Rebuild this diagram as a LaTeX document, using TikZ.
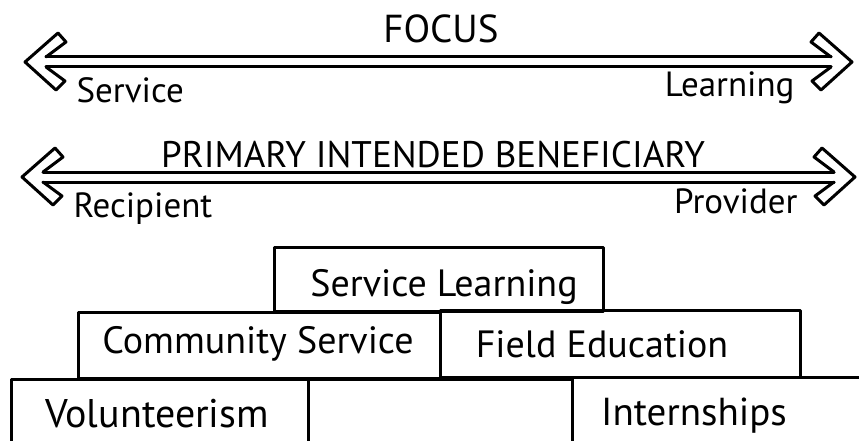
\documentclass[tikz,border=0pt]{standalone}
\usepackage{fontspec}
\setmainfont{PT Sans}
\begin{document}
\begin{tikzpicture}[x=1pt,y=-1pt,line width=3pt,line join=round,line cap=round,
  box/.style={draw,line width=3pt,inner sep=0pt,anchor=north west},
  ttl/.style={inner sep=0pt,anchor=base,font=\fontsize{37}{44}\selectfont},
  lbl/.style={inner sep=0pt,font=\fontsize{35}{42}\selectfont},
  boxtxt/.style={inner sep=0pt,anchor=base,font=\fontsize{38}{46}\selectfont},
  headL/.pic={\draw (21,-5) -- (41,-20) -- (33,-29) -- (0,0) -- (31,28) -- (40,19) -- (21,5);}]
\useasboundingbox (0,0) rectangle (859,441);
\clip (0,0) rectangle (859,441);
% FOCUS arrow
\coordinate (fl) at (25,62);
\coordinate (fr) at (852,62);
\pic at (fl) {headL};
\pic[xscale=-1] at (fr) {headL};
\draw ([shift={(21,-5)}]fl) -- ([shift={(-21,-5)}]fr);
\draw ([shift={(21,5)}]fl) -- ([shift={(-21,5)}]fr);
\node[ttl,font=\fontsize{39}{46}\selectfont] (focus) at (441,43) {FOCUS};
\node[lbl,anchor=base west] (service) at (75,103) {Service};
\node[lbl,anchor=base east] (learning) at (796,97) {Learning};
% BENEFICIARY arrow
\coordinate (bl) at (22,177);
\coordinate (br) at (855,177);
\pic at (bl) {headL};
\pic[xscale=-1] at (br) {headL};
\draw ([shift={(21,-5)}]bl) -- ([shift={(-21,-5)}]br);
\draw ([shift={(21,5)}]bl) -- ([shift={(-21,5)}]br);
\node[ttl] (pib) at (433,167) {PRIMARY INTENDED BENEFICIARY};
\node[lbl,anchor=base west] (recipient) at (72,217) {Recipient};
\node[lbl,anchor=base east] (provider) at (799,213) {Provider};
% boxes
\node[box,minimum width=329,minimum height=64] (slbox) at (273,246) {};
\node[box,minimum width=362,minimum height=66] (csbox) at (77,311) {};
\node[box,minimum width=360,minimum height=67] (febox) at (439,309) {};
\node[box,minimum width=297,minimum height=70] (volbox) at (10,378) {};
\node[box,minimum width=264,minimum height=70] (midbox) at (307,378) {};
\node[box,minimum width=310,minimum height=70] (intbox) at (571,376) {};
\node[boxtxt] (sl) at (444,296) {Service Learning};
\node[boxtxt] (cs) at (258,353) {Community Service};
\node[boxtxt] (fe) at (602,357) {Field Education};
\node[boxtxt,font=\fontsize{40}{48}\selectfont] (vol) at (157,427) {Volunteerism};
\node[boxtxt,font=\fontsize{39}{47}\selectfont] (int) at (694,425) {Internships};
\end{tikzpicture}
\end{document}
